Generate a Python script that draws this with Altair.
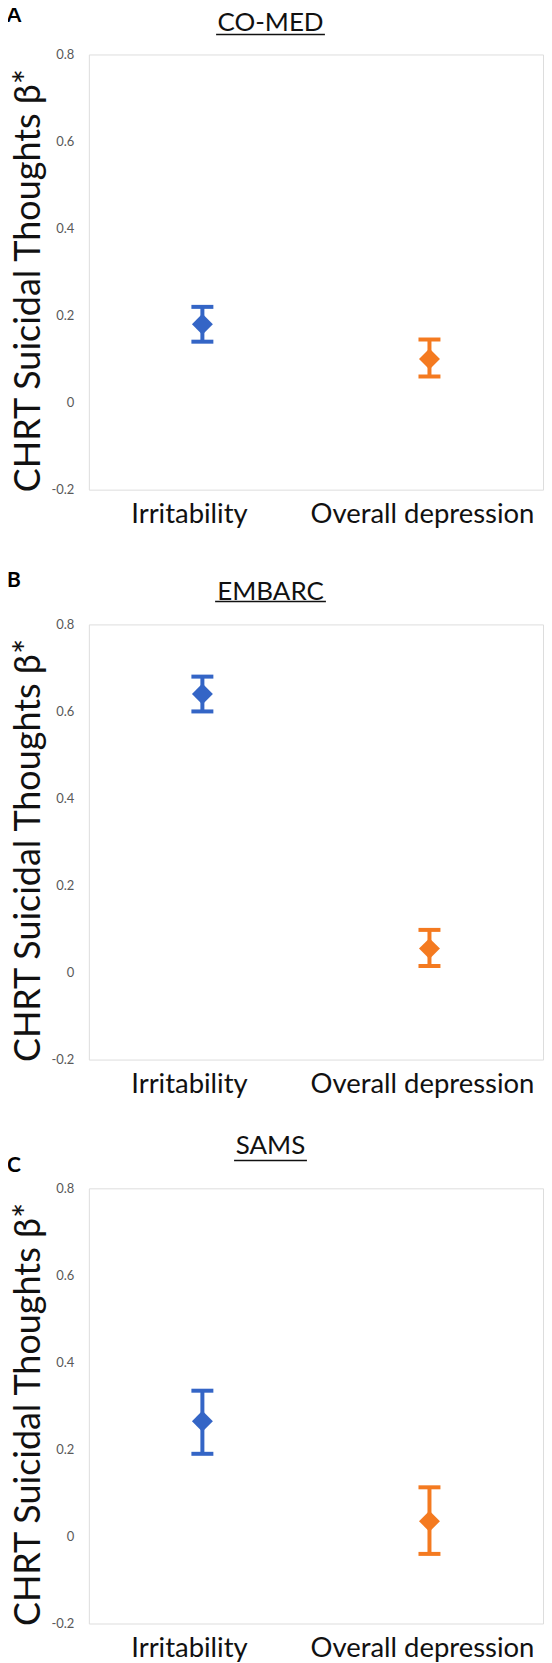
import altair as alt
import pandas as pd

measures = ["Irritability", "Overall depression"]

comed_beta = [0.18, 0.10]
comed_lo = [0.14, 0.06]
comed_hi = [0.22, 0.145]

embarc_beta = [0.64, 0.055]
embarc_lo = [0.60, 0.015]
embarc_hi = [0.68, 0.098]

sams_beta = [0.265, 0.035]
sams_lo = [0.19, -0.04]
sams_hi = [0.335, 0.113]

colors = ["#3465C6", "#F47A20"]
y_ticks = [-0.2, 0, 0.2, 0.4, 0.6, 0.8]

W, H = 455, 436
FONT = "Lato"


def panel(letter, name, beta, lo, hi, letter_dy, title_dy, uline_dy, uline_w):
    df = pd.DataFrame({"measure": measures, "beta": beta, "lo": lo, "hi": hi})
    base = alt.Chart(df)
    x = alt.X(
        "measure:N",
        scale=alt.Scale(domain=measures, paddingInner=0, paddingOuter=0),
        axis=alt.Axis(
            title=None, labelAngle=0, labelFontSize=27.5, labelPadding=11,
            labelLimit=0, ticks=False, domain=False,
            labelFont=FONT, labelColor="#111111",
            labelOffset={"condition": {"test": "datum.value === 'Irritability'", "value": -13},
                         "value": -7},
        ),
    )
    yaxis = alt.Axis(
        values=y_ticks,
        labelExpr="datum.value == 0 ? '0' : toString(round(datum.value * 10) / 10)",
        grid=False, ticks=False, domain=False, labelPadding=15,
        labelFontSize=13, labelColor="#595959", labelFont=FONT,
        title="CHRT Suicidal Thoughts β*", titleFontSize=36,
        titleFontWeight="normal", titleFont=FONT, titleColor="#111111",
        titleX=-60, titleY=H / 2 + 8, titleAngle=-90, titleAlign="center",
        titleBaseline="middle",
    )
    yscale = alt.Scale(domain=[-0.2, 0.8], nice=False, zero=False)
    color = alt.Color("measure:N", scale=alt.Scale(domain=measures, range=colors), legend=None)

    rule = base.mark_rule(strokeWidth=4).encode(
        x=x, y=alt.Y("lo:Q", scale=yscale, axis=yaxis), y2="hi:Q", color=color
    )
    cap_lo = base.mark_tick(thickness=4, size=22, opacity=1).encode(
        x=x, y=alt.Y("lo:Q", scale=yscale, axis=yaxis), color=color
    )
    cap_hi = base.mark_tick(thickness=4, size=22, opacity=1).encode(
        x=x, y=alt.Y("hi:Q", scale=yscale, axis=yaxis), color=color
    )
    pts = base.mark_point(shape="diamond", filled=True, size=440, opacity=1).encode(
        x=x, y=alt.Y("beta:Q", scale=yscale, axis=yaxis), color=color
    )

    tdf = pd.DataFrame({"t": [name], "l": [letter]})
    title = alt.Chart(tdf).mark_text(
        font=FONT, fontSize=26, align="center", baseline="middle", color="#111111"
    ).encode(text="t:N", x=alt.value(182), y=alt.value(title_dy))
    uline = alt.Chart(tdf).mark_rule(strokeWidth=1.5, color="#111111").encode(
        x=alt.value(182 - uline_w / 2), x2=alt.value(182 + uline_w / 2), y=alt.value(uline_dy)
    )
    let = alt.Chart(tdf).mark_text(
        font=FONT, fontSize=21, fontWeight="bold", align="center", baseline="middle",
        color="#000000",
    ).encode(text="l:N", x=alt.value(-75), y=alt.value(letter_dy))

    return alt.layer(rule, cap_lo, cap_hi, pts, title, uline, let).properties(width=W, height=H)


a = panel("A", "CO-MED", comed_beta, comed_lo, comed_hi, -39, -32, -20, 109)
b = panel("B", "EMBARC", embarc_beta, embarc_lo, embarc_hi, -43, -32, -23, 111)
c = panel("C", "SAMS", sams_beta, sams_lo, sams_hi, -22, -42, -28, 73)

chart = (
    alt.vconcat(alt.vconcat(a, b, spacing=41), c, spacing=34)
    .properties(padding={"left": -2, "top": -6, "right": 0, "bottom": 0})
    .configure_view(stroke="#3a3a3a", strokeWidth=1.5)
    .configure(background="white")
)

chart.save("out.html", embed_options={"renderer": "svg", "actions": False})
